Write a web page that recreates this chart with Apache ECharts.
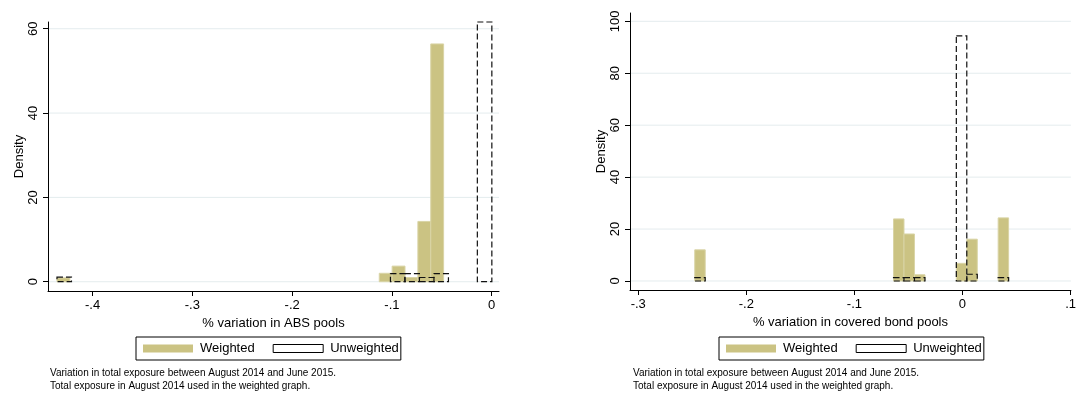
<!DOCTYPE html>
<html><head><meta charset="utf-8">
<script src="https://cdn.jsdelivr.net/npm/echarts@6/dist/echarts.min.js"></script>
<style>html,body{margin:0;padding:0;background:#fff}#c{width:1079px;height:393px}</style>
</head><body><div id="c"></div>
<script>
// ---------- data: ABS pools ----------
const absWeightedBinLeft = [-0.4357, -0.1127, -0.0998, -0.0869, -0.0740, -0.0611];
const absWeightedBinWidth = 0.0129;
const absWeightedDensity = [0.9, 2.0, 3.7, 1.0, 14.3, 56.4];
const absUnweightedBinLeft = [-0.4357, -0.1015, -0.0870, -0.0724, -0.0579, -0.0144];
const absUnweightedBinWidth = 0.01453;
const absUnweightedDensity = [1.1, 1.9, 1.9, 1.0, 1.9, 61.6];
// ---------- data: covered bond pools ----------
const cbWeightedBinLeft = [-0.2477, -0.0638, -0.0541, -0.0444, -0.0057, 0.0040, 0.0330];
const cbWeightedBinWidth = 0.00968;
const cbWeightedDensity = [12.0, 23.9, 18.1, 2.4, 6.8, 16.1, 24.3];
const cbUnweightedBinLeft = [-0.2477, -0.0638, -0.0541, -0.0444, -0.0057, 0.0040, 0.0330];
const cbUnweightedBinWidth = 0.00968;
const cbUnweightedDensity = [1.3, 1.3, 1.3, 1.3, 94.4, 2.6, 1.3];
// ---------- ticks & texts ----------
const absXTicks = [-0.4, -0.3, -0.2, -0.1, 0];
const absYTicks = [0, 20, 40, 60];
const cbXTicks = [-0.3, -0.2, -0.1, 0, 0.1];
const cbYTicks = [0, 20, 40, 60, 80, 100];
const seriesNames = ['Weighted', 'Unweighted'];
const absXTitle = '% variation in ABS pools';
const cbXTitle = '% variation in covered bond pools';
const yTitle = 'Density';
const noteLines = ['Variation in total exposure between August 2014 and June 2015.',
                   'Total exposure in August 2014 used in the weighted graph.'];

const FONT = "'Liberation Sans', Arial, Helvetica, sans-serif";
const SAND = '#cbc383';

function fmtX(v) {
  if (Math.abs(v) < 1e-9) return '0';
  return (v < 0 ? '-' : '') + Math.abs(v).toFixed(1).replace(/^0/, '');
}
function bins(left, width, dens) { return left.map((l, i) => [l, l + width, dens[i]]); }

function histSeries(name, idx, data, dashed) {
  return {
    type: 'custom', name: name, xAxisIndex: idx, yAxisIndex: idx,
    data: data, silent: true, z: dashed ? 4 : 3,
    encode: { x: [0, 1], y: 2 },
    itemStyle: dashed ? { color: '#fff', borderColor: '#000', borderWidth: 1 } : { color: SAND },
    renderItem: function (params, api) {
      const a = api.coord([api.value(0), api.value(2)]);
      const b = api.coord([api.value(1), 0]);
      return {
        type: 'rect',
        shape: { x: a[0], y: a[1], width: b[0] - a[0], height: b[1] - a[1] },
        style: dashed
          ? { fill: 'rgba(0,0,0,0)', stroke: '#111', lineWidth: 1.2, lineDash: [6, 3] }
          : { fill: SAND, stroke: '#d9d4a6', lineWidth: 1 }
      };
    }
  };
}
function gridSeries(idx, ticks) {
  return {
    type: 'custom', name: 'grid' + idx, xAxisIndex: idx, yAxisIndex: idx, silent: true, z: 1,
    data: ticks.map(t => [0, t]), encode: { y: 1 },
    renderItem: function (params, api) {
      const cs = params.coordSys;
      const y = api.coord([0, api.value(1)])[1];
      return { type: 'line', shape: { x1: cs.x + 1, y1: y, x2: cs.x + cs.width, y2: y },
               style: { stroke: '#e4ecee', lineWidth: 1 } };
    }
  };
}
function xAxis(idx, min, max, ticks, title) {
  return {
    gridIndex: idx, type: 'value', min: min, max: max,
    axisLine: { show: true, onZero: false, lineStyle: { color: '#000', width: 1 } },
    axisTick: { show: true, length: 5, customValues: ticks, lineStyle: { color: '#000' } },
    axisLabel: { customValues: ticks, formatter: fmtX, margin: 8, fontSize: 13, color: '#000', fontFamily: FONT },
    splitLine: { show: false },
    name: title, nameLocation: 'middle', nameGap: 25,
    nameTextStyle: { fontSize: 13, color: '#000', fontFamily: FONT }
  };
}
function yAxis(idx, min, max, ticks) {
  return {
    gridIndex: idx, type: 'value', min: min, max: max,
    axisLine: { show: true, onZero: false, lineStyle: { color: '#000', width: 1 } },
    axisTick: { show: true, length: 5, customValues: ticks, lineStyle: { color: '#000' } },
    axisLabel: { customValues: ticks, rotate: 90, margin: 8, fontSize: 13, color: '#000', fontFamily: FONT },
    splitLine: { show: false },
    name: yTitle, nameLocation: 'middle', nameGap: 22,
    nameTextStyle: { fontSize: 13, color: '#000', fontFamily: FONT }
  };
}
function legend(left) {
  return {
    left: left, top: 337, orient: 'horizontal', selectedMode: false,
    data: [
      { name: seriesNames[0], icon: 'rect', itemStyle: { color: SAND, borderWidth: 0 } },
      { name: seriesNames[1], icon: 'rect', itemStyle: { color: '#fff', borderColor: '#000', borderWidth: 1 } }
    ],
    itemWidth: 50, itemHeight: 8, itemGap: 18,
    borderColor: '#000', borderWidth: 1, padding: [5, 2, 5, 7],
    textStyle: { fontSize: 13, color: '#000', fontFamily: FONT, padding: [0, 0, 0, 2] }
  };
}

const chart = echarts.init(document.getElementById('c'), null, { renderer: 'canvas' });
chart.setOption({
  animation: false,
  backgroundColor: '#fff',
  grid: [
    { left: 48, top: 22, width: 451, height: 269 },
    { left: 630, top: 13, width: 445, height: 277 }
  ],
  xAxis: [xAxis(0, -0.4447, 0.0073, absXTicks, absXTitle), xAxis(1, -0.3076, 0.1003, cbXTicks, cbXTitle)],
  yAxis: [yAxis(0, -2.2, 61.6, absYTicks), yAxis(1, -3.47, 103.2, cbYTicks)],
  legend: [legend(136), legend(719)],
  series: [
    gridSeries(0, absYTicks),
    gridSeries(1, cbYTicks),
    histSeries(seriesNames[0], 0, bins(absWeightedBinLeft, absWeightedBinWidth, absWeightedDensity), false),
    histSeries(seriesNames[1], 0, bins(absUnweightedBinLeft, absUnweightedBinWidth, absUnweightedDensity), true),
    histSeries(seriesNames[0], 1, bins(cbWeightedBinLeft, cbWeightedBinWidth, cbWeightedDensity), false),
    histSeries(seriesNames[1], 1, bins(cbUnweightedBinLeft, cbUnweightedBinWidth, cbUnweightedDensity), true)
  ],
  graphic: [
    { type: 'text', left: 50, top: 367, style: { text: noteLines.join('\n'), font: '10px ' + FONT, fill: '#000', lineHeight: 12.5 } },
    { type: 'text', left: 633, top: 367, style: { text: noteLines.join('\n'), font: '10px ' + FONT, fill: '#000', lineHeight: 12.5 } }
  ]
});
</script></body></html>
